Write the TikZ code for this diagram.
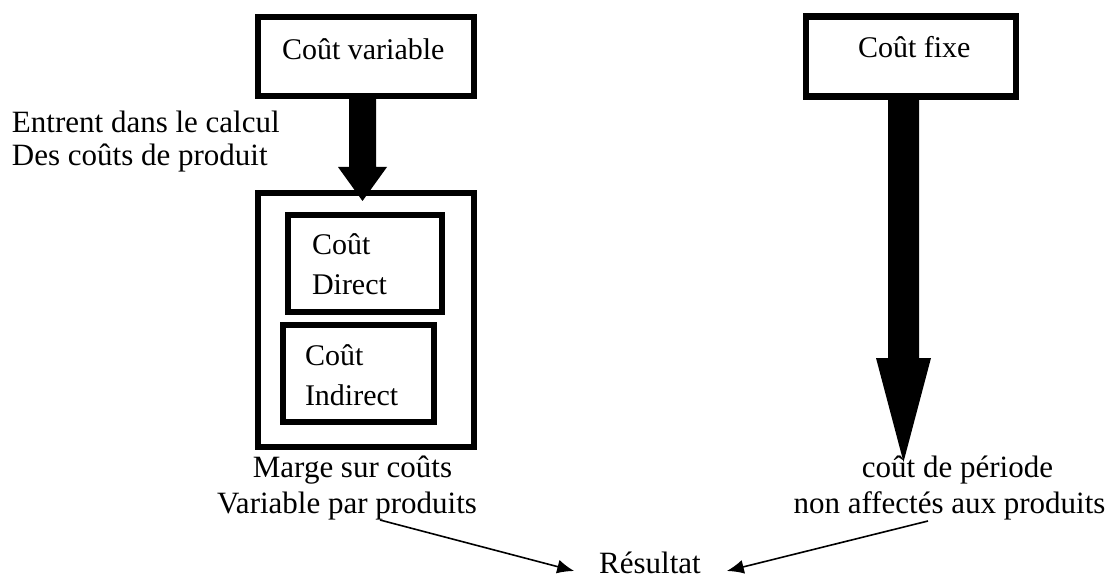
\documentclass[tikz,border=0pt]{standalone}
\usepackage{fontspec}
\setmainfont{Liberation Serif}
\usetikzlibrary{arrows.meta,calc}

\tikzset{
  frame/.style={draw=black, line width=6.5pt, inner sep=0pt, outer sep=0pt},
  boxlabel/.style={inner sep=0pt, outer sep=0pt, font=\fontsize{30}{36}\selectfont},
  plain/.style={inner sep=0pt, outer sep=0pt, font=\fontsize{31}{37}\selectfont},
  link/.style={draw=black, line width=1.6pt, -{Latex[length=17pt,width=14pt]}}
}

\begin{document}
\begin{tikzpicture}[x=1pt, y=-1pt]
\useasboundingbox (0,0) rectangle (1112,580);

% boxes
\node[frame, minimum width=216, minimum height=79] (cv) at (366,56.5) {};
\node[frame, minimum width=216, minimum height=254] (outer) at (366,320) {};
\node[frame, minimum width=154, minimum height=97] (direct) at (365,263.5) {};
\node[frame, minimum width=151, minimum height=97] (indirect) at (358.5,373.5) {};
\node[frame, minimum width=210, minimum height=80] (cf) at (911,56.5) {};

% box labels
\node[boxlabel, anchor=base west] (cvlab) at (282,60) {Coût variable};
\node[boxlabel, anchor=base west] (cflab) at (858,58) {Coût fixe};
\node[boxlabel, anchor=base west] (d1) at (312,255) {Coût};
\node[boxlabel, anchor=base west] (d2) at (312,295) {Direct};
\node[boxlabel, anchor=base west] (i1) at (305,365) {Coût};
\node[boxlabel, anchor=base west] (i2) at (305,405) {Indirect};

% free text
\node[plain, anchor=base west] (ent) at (12,133) {Entrent dans le calcul};
\node[plain, anchor=base west] (des) at (12,166) {Des coûts de produit};
\node[plain, anchor=base] (marge) at (352.5,477) {Marge sur coûts};
\node[plain, anchor=base] (var) at (347,513) {Variable par produits};
\node[plain, anchor=base] (per) at (957.5,477) {coût de période};
\node[plain, anchor=base] (non) at (949.5,513) {non affectés aux produits};
\node[plain, anchor=base] (res) at (650,573) {Résultat};

% thick arrow from the variable cost box
\coordinate (cvx) at (362.5,0);
\coordinate (cvtop) at (cv.south -| cvx);
\coordinate (cvneck) at (362.5,167);
\coordinate (cvtip) at ([yshift=-8pt]outer.north -| cvx);
\fill[black] ([xshift=-13.5pt]cvtop) -- ([xshift=-13.5pt]cvneck) -- ([xshift=-24.5pt]cvneck)
  -- (cvtip) -- ([xshift=24.5pt]cvneck) -- ([xshift=13.5pt]cvneck) -- ([xshift=13.5pt]cvtop) -- cycle;

% thick arrow from the fixed cost box
\coordinate (cfx) at (903.5,0);
\coordinate (cftop) at (cf.south -| cfx);
\coordinate (cfneck) at (903.5,358);
\coordinate (cftip) at (903.5,462);
\fill[black] ([xshift=-15.5pt]cftop) -- ([xshift=-15.5pt]cfneck) -- ([xshift=-27.5pt]cfneck)
  -- (cftip) -- ([xshift=27.5pt]cfneck) -- ([xshift=15.5pt]cfneck) -- ([xshift=15.5pt]cftop) -- cycle;

% thin arrows to the result
\draw[link] ([xshift=33pt, yshift=-7pt]var.base) -- ([xshift=-25pt, yshift=2pt]res.base west);
\draw[link] ([xshift=-21.5pt, yshift=-8pt]non.base) -- ([xshift=26pt, yshift=2pt]res.base east);
\end{tikzpicture}
\end{document}
